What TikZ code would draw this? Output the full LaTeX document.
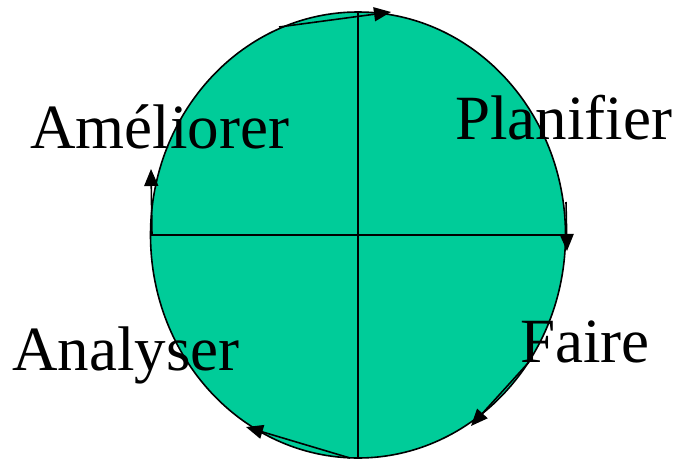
\documentclass[tikz,border=0pt]{standalone}
\usepackage{fontspec}
\setmainfont{Liberation Serif}
\usetikzlibrary{arrows.meta}
\definecolor{cfill}{RGB}{0,204,153}
\tikzset{
  lbl/.style={anchor=base west,inner sep=0pt,font=\fontsize{63}{63}\selectfont},
  arr/.style={line width=1.6pt,-{Triangle[length=17pt,width=14pt]}},
  ax/.style={line width=1.6pt}
}
\begin{document}
\begin{tikzpicture}[x=1pt,y=-1pt]
\useasboundingbox (0,0) rectangle (679,460);
\draw[fill=cfill,line width=1.6pt] (358,235) ellipse [x radius=207.5,y radius=223];
\coordinate (T) at (358,12);
\coordinate (B) at (358,458);
\coordinate (L) at (151,235);
\coordinate (R) at (566,235);
\draw[ax] (T) -- (B);
\draw[ax] (L) -- (R);
\coordinate (a1s) at (279,27);
\coordinate (a1e) at (391,12);
\coordinate (a2s) at (566,202);
\coordinate (a2e) at (567,251);
\coordinate (a3s) at (529,362);
\coordinate (a3e) at (471,426);
\coordinate (a4s) at (350,458);
\coordinate (a4e) at (246,427);
\coordinate (a5s) at (152,235);
\coordinate (a5e) at (151,169);
\draw[arr] (a1s) -- (a1e);
\draw[arr] (a2s) -- (a2e);
\draw[arr] (a3s) -- (a3e);
\draw[arr] (a4s) -- (a4e);
\draw[arr] (a5s) -- (a5e);
\node[lbl] (ame) at (30,148) {Améliorer};
\node[lbl] (pla) at (455,139) {Planifier};
\node[lbl] (ana) at (12,370) {Analyser};
\node[lbl] (fai) at (520,362) {Faire};
\end{tikzpicture}
\end{document}
